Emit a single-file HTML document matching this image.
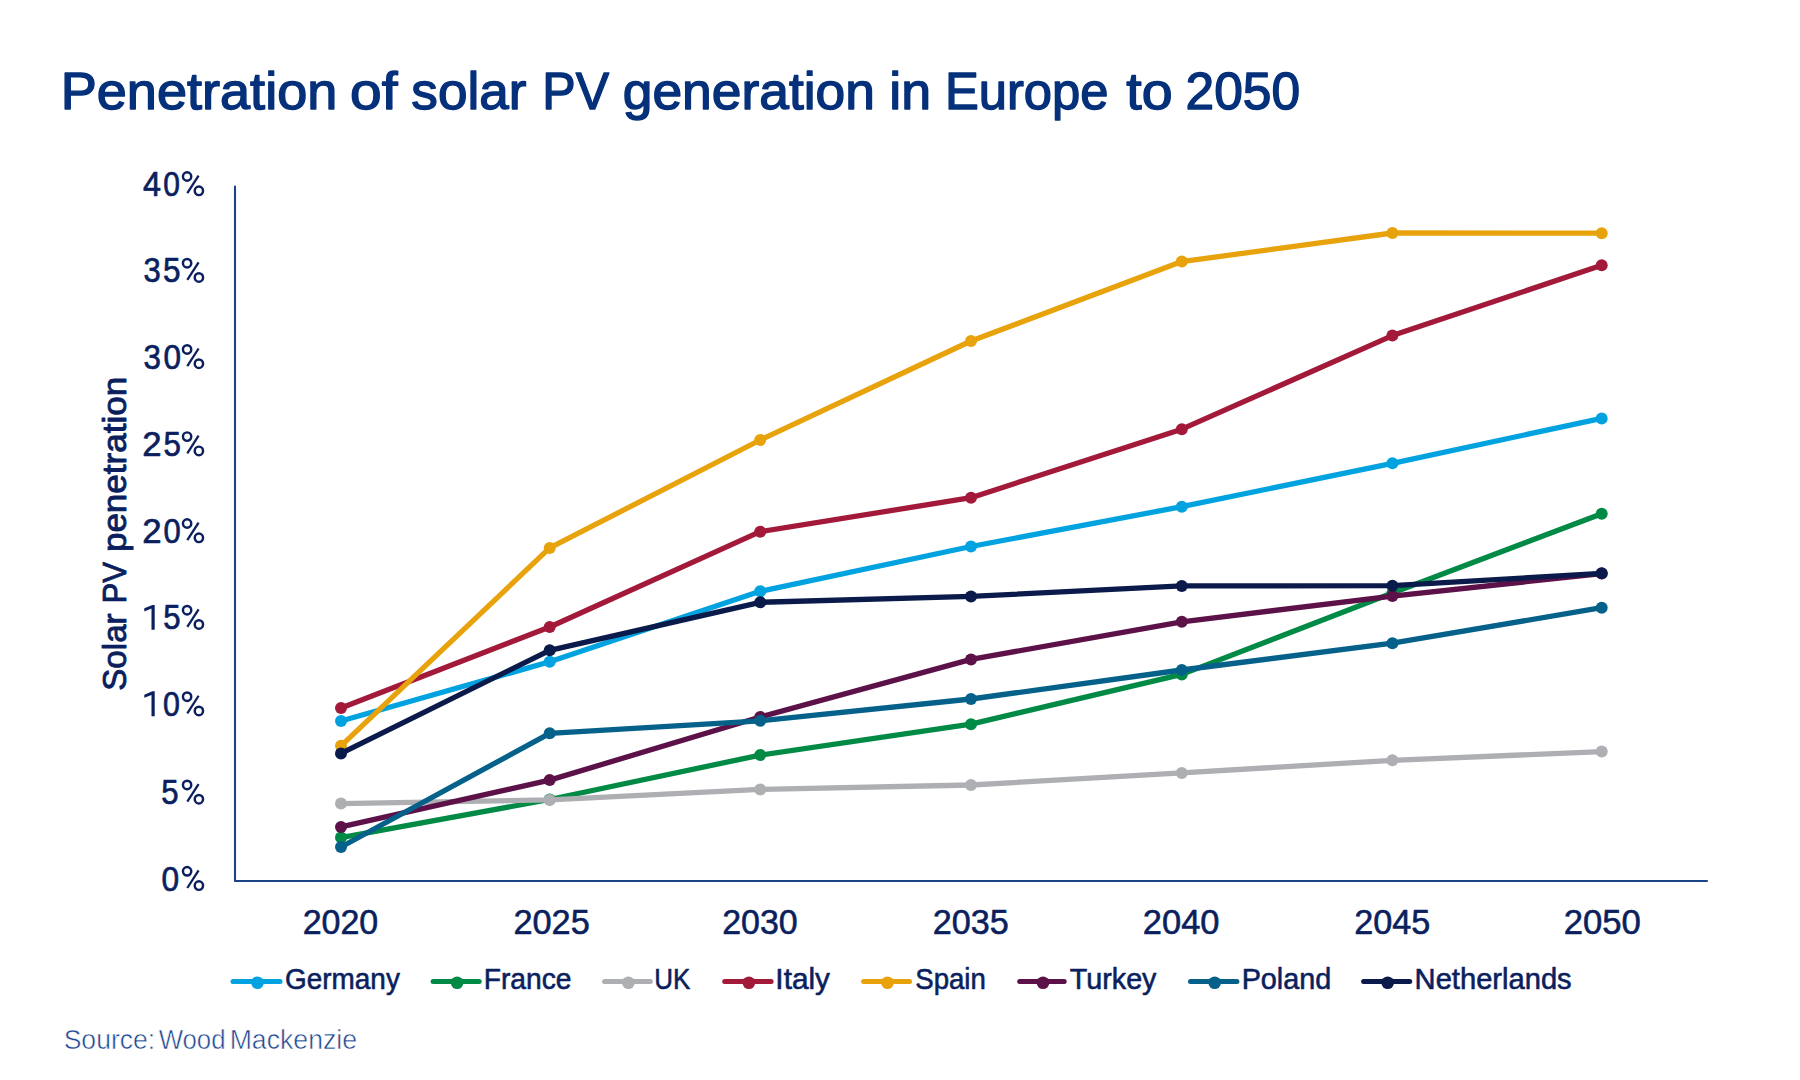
<!DOCTYPE html>
<html><head><meta charset="utf-8"><title>Penetration of solar PV generation in Europe to 2050</title>
<style>
html,body{margin:0;padding:0;background:#fff;}
body{width:1800px;height:1080px;overflow:hidden;font-family:"Liberation Sans",sans-serif;}
svg{display:block;}
text{font-family:"Liberation Sans",sans-serif;}
</style></head><body>
<svg width="1800" height="1080" viewBox="0 0 1800 1080">
<rect width="1800" height="1080" fill="#fff"/>
<path d="M235 186.6 V881 H1707" fill="none" stroke="#1B4486" stroke-width="2.1" stroke-linejoin="round" stroke-linecap="round"/>
<polyline points="341.0,721.0 549.7,661.8 760.2,591.3 971.0,546.5 1181.8,506.7 1392.4,463.3 1601.7,418.4" fill="none" stroke="#00A3E0" stroke-width="5.3" stroke-linejoin="round" stroke-linecap="round"/>
<circle cx="341.0" cy="721.0" r="6.0" fill="#00A3E0"/>
<circle cx="549.7" cy="661.8" r="6.0" fill="#00A3E0"/>
<circle cx="760.2" cy="591.3" r="6.0" fill="#00A3E0"/>
<circle cx="971.0" cy="546.5" r="6.0" fill="#00A3E0"/>
<circle cx="1181.8" cy="506.7" r="6.0" fill="#00A3E0"/>
<circle cx="1392.4" cy="463.3" r="6.0" fill="#00A3E0"/>
<circle cx="1601.7" cy="418.4" r="6.0" fill="#00A3E0"/>
<polyline points="341.0,837.6 549.7,799.5 760.2,755.1 971.0,724.2 1181.8,674.4 1392.4,593.0 1601.7,513.7" fill="none" stroke="#008A45" stroke-width="5.3" stroke-linejoin="round" stroke-linecap="round"/>
<circle cx="341.0" cy="837.6" r="6.0" fill="#008A45"/>
<circle cx="549.7" cy="799.5" r="6.0" fill="#008A45"/>
<circle cx="760.2" cy="755.1" r="6.0" fill="#008A45"/>
<circle cx="971.0" cy="724.2" r="6.0" fill="#008A45"/>
<circle cx="1181.8" cy="674.4" r="6.0" fill="#008A45"/>
<circle cx="1392.4" cy="593.0" r="6.0" fill="#008A45"/>
<circle cx="1601.7" cy="513.7" r="6.0" fill="#008A45"/>
<polyline points="341.0,803.6 549.7,799.9 760.2,789.4 971.0,785.0 1181.8,772.9 1392.4,760.3 1601.7,751.6" fill="none" stroke="#ADAFB3" stroke-width="5.3" stroke-linejoin="round" stroke-linecap="round"/>
<circle cx="341.0" cy="803.6" r="6.0" fill="#ADAFB3"/>
<circle cx="549.7" cy="799.9" r="6.0" fill="#ADAFB3"/>
<circle cx="760.2" cy="789.4" r="6.0" fill="#ADAFB3"/>
<circle cx="971.0" cy="785.0" r="6.0" fill="#ADAFB3"/>
<circle cx="1181.8" cy="772.9" r="6.0" fill="#ADAFB3"/>
<circle cx="1392.4" cy="760.3" r="6.0" fill="#ADAFB3"/>
<circle cx="1601.7" cy="751.6" r="6.0" fill="#ADAFB3"/>
<polyline points="341.0,708.0 549.7,627.0 760.2,531.7 971.0,497.7 1181.8,429.2 1392.4,335.6 1601.7,265.3" fill="none" stroke="#A3193A" stroke-width="5.3" stroke-linejoin="round" stroke-linecap="round"/>
<circle cx="341.0" cy="708.0" r="6.0" fill="#A3193A"/>
<circle cx="549.7" cy="627.0" r="6.0" fill="#A3193A"/>
<circle cx="760.2" cy="531.7" r="6.0" fill="#A3193A"/>
<circle cx="971.0" cy="497.7" r="6.0" fill="#A3193A"/>
<circle cx="1181.8" cy="429.2" r="6.0" fill="#A3193A"/>
<circle cx="1392.4" cy="335.6" r="6.0" fill="#A3193A"/>
<circle cx="1601.7" cy="265.3" r="6.0" fill="#A3193A"/>
<polyline points="341.0,745.8 549.7,547.9 760.2,440.0 971.0,341.0 1181.8,261.6 1392.4,233.0 1601.7,233.2" fill="none" stroke="#E8A30C" stroke-width="5.3" stroke-linejoin="round" stroke-linecap="round"/>
<circle cx="341.0" cy="745.8" r="6.0" fill="#E8A30C"/>
<circle cx="549.7" cy="547.9" r="6.0" fill="#E8A30C"/>
<circle cx="760.2" cy="440.0" r="6.0" fill="#E8A30C"/>
<circle cx="971.0" cy="341.0" r="6.0" fill="#E8A30C"/>
<circle cx="1181.8" cy="261.6" r="6.0" fill="#E8A30C"/>
<circle cx="1392.4" cy="233.0" r="6.0" fill="#E8A30C"/>
<circle cx="1601.7" cy="233.2" r="6.0" fill="#E8A30C"/>
<polyline points="341.0,826.9 549.7,780.1 760.2,717.0 971.0,659.4 1181.8,621.8 1392.4,596.1 1601.7,573.6" fill="none" stroke="#5C1248" stroke-width="5.3" stroke-linejoin="round" stroke-linecap="round"/>
<circle cx="341.0" cy="826.9" r="6.0" fill="#5C1248"/>
<circle cx="549.7" cy="780.1" r="6.0" fill="#5C1248"/>
<circle cx="760.2" cy="717.0" r="6.0" fill="#5C1248"/>
<circle cx="971.0" cy="659.4" r="6.0" fill="#5C1248"/>
<circle cx="1181.8" cy="621.8" r="6.0" fill="#5C1248"/>
<circle cx="1392.4" cy="596.1" r="6.0" fill="#5C1248"/>
<circle cx="1601.7" cy="573.6" r="6.0" fill="#5C1248"/>
<polyline points="341.0,847.0 549.7,733.3 760.2,720.8 971.0,699.0 1181.8,670.0 1392.4,643.2 1601.7,607.7" fill="none" stroke="#05618A" stroke-width="5.3" stroke-linejoin="round" stroke-linecap="round"/>
<circle cx="341.0" cy="847.0" r="6.0" fill="#05618A"/>
<circle cx="549.7" cy="733.3" r="6.0" fill="#05618A"/>
<circle cx="760.2" cy="720.8" r="6.0" fill="#05618A"/>
<circle cx="971.0" cy="699.0" r="6.0" fill="#05618A"/>
<circle cx="1181.8" cy="670.0" r="6.0" fill="#05618A"/>
<circle cx="1392.4" cy="643.2" r="6.0" fill="#05618A"/>
<circle cx="1601.7" cy="607.7" r="6.0" fill="#05618A"/>
<polyline points="341.0,753.4 549.7,650.3 760.2,602.3 971.0,596.4 1181.8,585.9 1392.4,585.7 1601.7,573.3" fill="none" stroke="#0A1A4A" stroke-width="5.3" stroke-linejoin="round" stroke-linecap="round"/>
<circle cx="341.0" cy="753.4" r="6.0" fill="#0A1A4A"/>
<circle cx="549.7" cy="650.3" r="6.0" fill="#0A1A4A"/>
<circle cx="760.2" cy="602.3" r="6.0" fill="#0A1A4A"/>
<circle cx="971.0" cy="596.4" r="6.0" fill="#0A1A4A"/>
<circle cx="1181.8" cy="585.9" r="6.0" fill="#0A1A4A"/>
<circle cx="1392.4" cy="585.7" r="6.0" fill="#0A1A4A"/>
<circle cx="1601.7" cy="573.3" r="6.0" fill="#0A1A4A"/>
<line x1="233.0" y1="981.5" x2="280.0" y2="981.5" stroke="#00A3E0" stroke-width="5" stroke-linecap="round"/>
<circle cx="257.5" cy="982.7" r="6.3" fill="#00A3E0"/>
<line x1="433.1" y1="981.5" x2="479.2" y2="981.5" stroke="#008A45" stroke-width="5" stroke-linecap="round"/>
<circle cx="457.1" cy="982.7" r="6.3" fill="#008A45"/>
<line x1="604.5" y1="981.5" x2="650.3" y2="981.5" stroke="#ADAFB3" stroke-width="5" stroke-linecap="round"/>
<circle cx="628.4" cy="982.7" r="6.3" fill="#ADAFB3"/>
<line x1="724.7" y1="981.5" x2="771.1" y2="981.5" stroke="#A3193A" stroke-width="5" stroke-linecap="round"/>
<circle cx="748.9" cy="982.7" r="6.3" fill="#A3193A"/>
<line x1="863.6" y1="981.5" x2="909.5" y2="981.5" stroke="#E8A30C" stroke-width="5" stroke-linecap="round"/>
<circle cx="887.5" cy="982.7" r="6.3" fill="#E8A30C"/>
<line x1="1019.7" y1="981.5" x2="1064.2" y2="981.5" stroke="#5C1248" stroke-width="5" stroke-linecap="round"/>
<circle cx="1043.0" cy="982.7" r="6.3" fill="#5C1248"/>
<line x1="1190.5" y1="981.5" x2="1236.9" y2="981.5" stroke="#05618A" stroke-width="5" stroke-linecap="round"/>
<circle cx="1214.7" cy="982.7" r="6.3" fill="#05618A"/>
<line x1="1363.6" y1="981.5" x2="1409.7" y2="981.5" stroke="#0A1A4A" stroke-width="5" stroke-linecap="round"/>
<circle cx="1387.7" cy="982.7" r="6.3" fill="#0A1A4A"/>
<text id="t0" x="60.65" y="109.00" font-size="51.9" fill="#05307A" stroke="#05307A" stroke-width="1.4" stroke-linejoin="round" textLength="276.69" lengthAdjust="spacingAndGlyphs">Penetration</text>
<text id="t1" x="350.11" y="109.00" font-size="51.9" fill="#05307A" stroke="#05307A" stroke-width="1.4" stroke-linejoin="round" textLength="47.41" lengthAdjust="spacingAndGlyphs">of</text>
<text id="t2" x="411.38" y="109.00" font-size="51.9" fill="#05307A" stroke="#05307A" stroke-width="1.4" stroke-linejoin="round" textLength="115.00" lengthAdjust="spacingAndGlyphs">solar</text>
<text id="t3" x="542.32" y="109.00" font-size="51.9" fill="#05307A" stroke="#05307A" stroke-width="1.4" stroke-linejoin="round" textLength="66.82" lengthAdjust="spacingAndGlyphs">PV</text>
<text id="t4" x="622.75" y="109.00" font-size="51.9" fill="#05307A" stroke="#05307A" stroke-width="1.4" stroke-linejoin="round" textLength="252.17" lengthAdjust="spacingAndGlyphs">generation</text>
<text id="t5" x="889.30" y="109.00" font-size="51.9" fill="#05307A" stroke="#05307A" stroke-width="1.4" stroke-linejoin="round" textLength="41.78" lengthAdjust="spacingAndGlyphs">in</text>
<text id="t6" x="944.88" y="109.00" font-size="51.9" fill="#05307A" stroke="#05307A" stroke-width="1.4" stroke-linejoin="round" textLength="163.51" lengthAdjust="spacingAndGlyphs">Europe</text>
<text id="t7" x="1126.24" y="109.00" font-size="51.9" fill="#05307A" stroke="#05307A" stroke-width="1.4" stroke-linejoin="round" textLength="46.30" lengthAdjust="spacingAndGlyphs">to</text>
<text id="t8" x="1185.62" y="109.00" font-size="51.9" fill="#05307A" stroke="#05307A" stroke-width="1.4" stroke-linejoin="round" textLength="114.51" lengthAdjust="spacingAndGlyphs">2050</text>
<text id="y0_0" x="161.62" y="890.60" font-size="34.6" fill="#0B1F5E" stroke="#0B1F5E" stroke-width="0.7" stroke-linejoin="round" textLength="17.63" lengthAdjust="spacingAndGlyphs">0</text>
<text id="y1_0" x="161.29" y="804.22" font-size="34.6" fill="#0B1F5E" stroke="#0B1F5E" stroke-width="0.7" stroke-linejoin="round" textLength="17.31" lengthAdjust="spacingAndGlyphs">5</text>
<text id="y2_1" x="162.93" y="715.95" font-size="34.6" fill="#0B1F5E" stroke="#0B1F5E" stroke-width="0.7" stroke-linejoin="round" textLength="16.88" lengthAdjust="spacingAndGlyphs">0</text>
<text id="y3_1" x="163.29" y="629.47" font-size="34.6" fill="#0B1F5E" stroke="#0B1F5E" stroke-width="0.7" stroke-linejoin="round" textLength="17.31" lengthAdjust="spacingAndGlyphs">5</text>
<text id="y4_0" x="142.39" y="542.80" font-size="34.6" fill="#0B1F5E" stroke="#0B1F5E" stroke-width="0.7" stroke-linejoin="round" textLength="19.35" lengthAdjust="spacingAndGlyphs">2</text>
<text id="y4_1" x="163.48" y="542.80" font-size="34.6" fill="#0B1F5E" stroke="#0B1F5E" stroke-width="0.7" stroke-linejoin="round" textLength="17.20" lengthAdjust="spacingAndGlyphs">0</text>
<text id="y5_0" x="142.39" y="455.93" font-size="34.6" fill="#0B1F5E" stroke="#0B1F5E" stroke-width="0.7" stroke-linejoin="round" textLength="19.35" lengthAdjust="spacingAndGlyphs">2</text>
<text id="y5_1" x="163.48" y="455.93" font-size="34.6" fill="#0B1F5E" stroke="#0B1F5E" stroke-width="0.7" stroke-linejoin="round" textLength="17.42" lengthAdjust="spacingAndGlyphs">5</text>
<text id="y6_0" x="143.43" y="368.70" font-size="34.6" fill="#0B1F5E" stroke="#0B1F5E" stroke-width="0.7" stroke-linejoin="round" textLength="17.42" lengthAdjust="spacingAndGlyphs">3</text>
<text id="y6_1" x="163.43" y="368.70" font-size="34.6" fill="#0B1F5E" stroke="#0B1F5E" stroke-width="0.7" stroke-linejoin="round" textLength="17.52" lengthAdjust="spacingAndGlyphs">0</text>
<text id="y7_0" x="143.43" y="282.48" font-size="34.6" fill="#0B1F5E" stroke="#0B1F5E" stroke-width="0.7" stroke-linejoin="round" textLength="17.20" lengthAdjust="spacingAndGlyphs">3</text>
<text id="y7_1" x="162.90" y="282.48" font-size="34.6" fill="#0B1F5E" stroke="#0B1F5E" stroke-width="0.7" stroke-linejoin="round" textLength="17.52" lengthAdjust="spacingAndGlyphs">5</text>
<text id="y8_0" x="143.00" y="195.80" font-size="34.6" fill="#0B1F5E" stroke="#0B1F5E" stroke-width="0.7" stroke-linejoin="round" textLength="18.02" lengthAdjust="spacingAndGlyphs">4</text>
<text id="y8_1" x="163.32" y="195.80" font-size="34.6" fill="#0B1F5E" stroke="#0B1F5E" stroke-width="0.7" stroke-linejoin="round" textLength="16.67" lengthAdjust="spacingAndGlyphs">0</text>
<text id="x0" x="302.63" y="933.50" font-size="34.8" fill="#0B1F5E" stroke="#0B1F5E" stroke-width="0.6" stroke-linejoin="round" textLength="75.59" lengthAdjust="spacingAndGlyphs">2020</text>
<text id="x1" x="513.41" y="933.50" font-size="34.8" fill="#0B1F5E" stroke="#0B1F5E" stroke-width="0.6" stroke-linejoin="round" textLength="76.40" lengthAdjust="spacingAndGlyphs">2025</text>
<text id="x2" x="722.22" y="933.50" font-size="34.8" fill="#0B1F5E" stroke="#0B1F5E" stroke-width="0.6" stroke-linejoin="round" textLength="75.49" lengthAdjust="spacingAndGlyphs">2030</text>
<text id="x3" x="932.82" y="933.50" font-size="34.8" fill="#0B1F5E" stroke="#0B1F5E" stroke-width="0.6" stroke-linejoin="round" textLength="76.00" lengthAdjust="spacingAndGlyphs">2035</text>
<text id="x4" x="1142.81" y="933.50" font-size="34.8" fill="#0B1F5E" stroke="#0B1F5E" stroke-width="0.6" stroke-linejoin="round" textLength="76.70" lengthAdjust="spacingAndGlyphs">2040</text>
<text id="x5" x="1354.22" y="933.50" font-size="34.8" fill="#0B1F5E" stroke="#0B1F5E" stroke-width="0.6" stroke-linejoin="round" textLength="76.10" lengthAdjust="spacingAndGlyphs">2045</text>
<text id="x6" x="1563.81" y="933.50" font-size="34.8" fill="#0B1F5E" stroke="#0B1F5E" stroke-width="0.6" stroke-linejoin="round" textLength="77.11" lengthAdjust="spacingAndGlyphs">2050</text>
<text id="LGermany" x="285.05" y="989.40" font-size="29.5" fill="#0B1F5E" stroke="#0B1F5E" stroke-width="0.6" stroke-linejoin="round" textLength="114.81" lengthAdjust="spacingAndGlyphs">Germany</text>
<text id="LFrance" x="483.67" y="989.40" font-size="29.5" fill="#0B1F5E" stroke="#0B1F5E" stroke-width="0.6" stroke-linejoin="round" textLength="87.85" lengthAdjust="spacingAndGlyphs">France</text>
<text id="LUK" x="654.37" y="989.40" font-size="29.5" fill="#0B1F5E" stroke="#0B1F5E" stroke-width="0.6" stroke-linejoin="round" textLength="36.07" lengthAdjust="spacingAndGlyphs">UK</text>
<text id="LItaly" x="775.39" y="989.40" font-size="29.5" fill="#0B1F5E" stroke="#0B1F5E" stroke-width="0.6" stroke-linejoin="round" textLength="54.52" lengthAdjust="spacingAndGlyphs">Italy</text>
<text id="LSpain" x="915.26" y="989.40" font-size="29.5" fill="#0B1F5E" stroke="#0B1F5E" stroke-width="0.6" stroke-linejoin="round" textLength="70.56" lengthAdjust="spacingAndGlyphs">Spain</text>
<text id="LTurkey" x="1069.79" y="989.40" font-size="29.5" fill="#0B1F5E" stroke="#0B1F5E" stroke-width="0.6" stroke-linejoin="round" textLength="86.69" lengthAdjust="spacingAndGlyphs">Turkey</text>
<text id="LPoland" x="1241.63" y="989.40" font-size="29.5" fill="#0B1F5E" stroke="#0B1F5E" stroke-width="0.6" stroke-linejoin="round" textLength="89.61" lengthAdjust="spacingAndGlyphs">Poland</text>
<text id="LNetherlands" x="1414.62" y="989.40" font-size="29.5" fill="#0B1F5E" stroke="#0B1F5E" stroke-width="0.6" stroke-linejoin="round" textLength="157.05" lengthAdjust="spacingAndGlyphs">Netherlands</text>
<text id="s0" x="63.66" y="1048.70" font-size="27.3" fill="#1E4792" stroke="#fff" stroke-width="0.55" textLength="91.54" lengthAdjust="spacingAndGlyphs">Source:</text>
<text id="s1" x="158.64" y="1048.70" font-size="27.3" fill="#1E4792" stroke="#fff" stroke-width="0.55" textLength="66.87" lengthAdjust="spacingAndGlyphs">Wood</text>
<text id="s2" x="229.66" y="1048.70" font-size="27.3" fill="#1E4792" stroke="#fff" stroke-width="0.55" textLength="127.48" lengthAdjust="spacingAndGlyphs">Mackenzie</text>
<text id="r0" transform="rotate(-90)" x="-690.79" y="126.20" font-size="33.5" fill="#0B1F5E" stroke="#0B1F5E" stroke-width="0.9" stroke-linejoin="round" textLength="77.41" lengthAdjust="spacingAndGlyphs">Solar</text>
<text id="r1" transform="rotate(-90)" x="-603.47" y="126.20" font-size="33.5" fill="#0B1F5E" stroke="#0B1F5E" stroke-width="0.9" stroke-linejoin="round" textLength="41.58" lengthAdjust="spacingAndGlyphs">PV</text>
<text id="r2" transform="rotate(-90)" x="-552.09" y="126.20" font-size="33.5" fill="#0B1F5E" stroke="#0B1F5E" stroke-width="0.9" stroke-linejoin="round" textLength="175.20" lengthAdjust="spacingAndGlyphs">penetration</text>
<g fill="none" stroke="#0B1F5E"><ellipse cx="187.1" cy="871.30" rx="4.15" ry="4.25" stroke-width="2.45"/><ellipse cx="198.9" cy="885.60" rx="4.15" ry="4.3" stroke-width="2.45"/><path d="M187.3 888.00 L198.6 870.40" stroke-width="2.3"/></g>
<g fill="none" stroke="#0B1F5E"><ellipse cx="187.1" cy="784.93" rx="4.15" ry="4.25" stroke-width="2.45"/><ellipse cx="198.9" cy="799.23" rx="4.15" ry="4.3" stroke-width="2.45"/><path d="M187.3 801.62 L198.6 784.03" stroke-width="2.3"/></g>
<g fill="none" stroke="#0B1F5E"><ellipse cx="187.1" cy="696.65" rx="4.15" ry="4.25" stroke-width="2.45"/><ellipse cx="198.9" cy="710.95" rx="4.15" ry="4.3" stroke-width="2.45"/><path d="M187.3 713.35 L198.6 695.75" stroke-width="2.3"/></g>
<g fill="none" stroke="#0B1F5E"><ellipse cx="187.1" cy="610.18" rx="4.15" ry="4.25" stroke-width="2.45"/><ellipse cx="198.9" cy="624.48" rx="4.15" ry="4.3" stroke-width="2.45"/><path d="M187.3 626.88 L198.6 609.28" stroke-width="2.3"/></g>
<g fill="none" stroke="#0B1F5E"><ellipse cx="187.1" cy="523.50" rx="4.15" ry="4.25" stroke-width="2.45"/><ellipse cx="198.9" cy="537.80" rx="4.15" ry="4.3" stroke-width="2.45"/><path d="M187.3 540.20 L198.6 522.60" stroke-width="2.3"/></g>
<g fill="none" stroke="#0B1F5E"><ellipse cx="187.1" cy="436.62" rx="4.15" ry="4.25" stroke-width="2.45"/><ellipse cx="198.9" cy="450.92" rx="4.15" ry="4.3" stroke-width="2.45"/><path d="M187.3 453.32 L198.6 435.72" stroke-width="2.3"/></g>
<g fill="none" stroke="#0B1F5E"><ellipse cx="187.1" cy="349.40" rx="4.15" ry="4.25" stroke-width="2.45"/><ellipse cx="198.9" cy="363.70" rx="4.15" ry="4.3" stroke-width="2.45"/><path d="M187.3 366.10 L198.6 348.50" stroke-width="2.3"/></g>
<g fill="none" stroke="#0B1F5E"><ellipse cx="187.1" cy="263.18" rx="4.15" ry="4.25" stroke-width="2.45"/><ellipse cx="198.9" cy="277.47" rx="4.15" ry="4.3" stroke-width="2.45"/><path d="M187.3 279.88 L198.6 262.27" stroke-width="2.3"/></g>
<g fill="none" stroke="#0B1F5E"><ellipse cx="187.1" cy="176.50" rx="4.15" ry="4.25" stroke-width="2.45"/><ellipse cx="198.9" cy="190.80" rx="4.15" ry="4.3" stroke-width="2.45"/><path d="M187.3 193.20 L198.6 175.60" stroke-width="2.3"/></g>
<path d="M151.5 716.15 L154.7 716.15 L154.7 691.35 L152.5 691.35 L144.3 694.75 L144.3 697.85 L151.5 695.05 Z" fill="#0B1F5E"/>
<path d="M151.5 629.67 L154.7 629.67 L154.7 604.88 L152.5 604.88 L144.3 608.27 L144.3 611.38 L151.5 608.58 Z" fill="#0B1F5E"/>
</svg>
</body></html>
